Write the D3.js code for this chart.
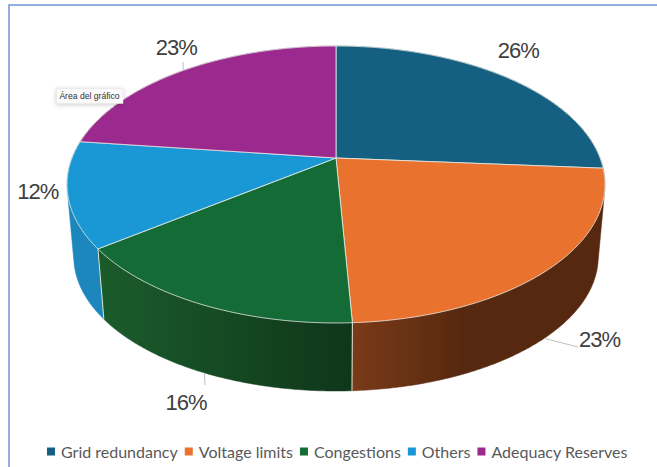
<!DOCTYPE html>
<html>
<head>
<meta charset="utf-8">
<script src="https://cdn.jsdelivr.net/npm/d3@7"></script>
<style>
html, body { margin: 0; padding: 0; background: #fff; }
svg { display: block; }
text { font-family: "Liberation Sans", sans-serif; }
</style>
</head>
<body>
<svg id="chart" width="657" height="467"></svg>
<script>
const categories = ['Grid redundancy', 'Voltage limits', 'Congestions', 'Others', 'Adequacy Reserves']
const shares = [26.2, 23, 15.5, 12.3, 23]
const labels = ['26%', '23%', '16%', '12%', '23%']
const colors = ['#156082', '#e8722e', '#146b36', '#1a98d5', '#9c2a8e']
// left and right colour of the side wall of every slice
const wallColors = [
	['#0e4058', '#0e4058'],
	['#7a3a18', '#55280f'],
	['#1b5c2b', '#0f361a'],
	['#1b87bd', '#1b87bd'],
	['#6a1c60', '#6a1c60']
]
// label centre relative to the rim point at the middle of the slice
const labelOffsets = [[11, -27], [50, 71], [-15, 98], [-30, -3], [-7, -23]]

const svg = d3.select('#chart')

// the pie is a circle seen in perspective, k is how strong that is
const k = 0.1913
const cx = 336
const topFace = {y0: 158, a: 264, b: 133.4}
const baseFace = {y0: 231, a: 264 * 0.975, b: 133.4 * 0.97}

function project(angle, face, r = 1) {
	let u = r * Math.sin(angle)
	let v = -r * Math.cos(angle)
	let d = 1 - k * v
	return [cx + face.a * u / d, face.y0 + face.b * v / d]
}

function arcPoints(start, end, face) {
	let n = Math.max(2, Math.ceil((end - start) / 0.01))
	return d3.range(n + 1).map(i => project(start + (end - start) * i / n, face))
}

const line = d3.line()
const slices = d3.pie().sort(null)(shares)

// only the top and left edge of the frame fall inside the screenshot
svg.append('rect')
	.attr('x', 9).attr('y', 5)
	.attr('width', 700).attr('height', 500)
	.attr('fill', '#fff')
	.attr('stroke', '#6d96d6')
	.attr('stroke-width', 1.5)

let defs = svg.append('defs')
defs.append('filter')
	.attr('id', 'shadow')
	.attr('x', '-30%').attr('y', '-50%')
	.attr('width', '160%').attr('height', '220%')
	.append('feDropShadow')
	.attr('dx', 0).attr('dy', 1)
	.attr('stdDeviation', 2.5)
	.attr('flood-opacity', 0.2)

slices.forEach((s, i) => {
	let pts = arcPoints(s.startAngle, s.endAngle, topFace)
	let grad = defs.append('linearGradient')
		.attr('id', `wall${i}`)
		.attr('gradientUnits', 'userSpaceOnUse')
		.attr('x1', d3.min(pts, p => p[0])).attr('y1', 0)
		.attr('x2', d3.max(pts, p => p[0])).attr('y2', 0)
	grad.append('stop').attr('offset', 0).attr('stop-color', wallColors[i][0])
	grad.append('stop').attr('offset', i == 1 ? 0.45 : 1).attr('stop-color', wallColors[i][1])
})

// back slices first so the front walls cover them
const wallOrder = [0, 4, 3, 2, 1]
wallOrder.forEach(i => {
	let s = slices[i]
	let upper = arcPoints(s.startAngle, s.endAngle, topFace)
	let lower = arcPoints(s.startAngle, s.endAngle, baseFace)
	// hull so the part between the two rims at the silhouette gets filled too
	let hull = d3.polygonHull(upper.concat(lower))
	svg.append('path')
		.attr('d', line(hull) + 'Z')
		.attr('fill', `url(#wall${i})`)
		.attr('stroke', `url(#wall${i})`)
		.attr('stroke-width', 0.5)
})

// light edges between the walls
;[slices[2].startAngle, slices[3].startAngle].forEach(a => {
	svg.append('path')
		.attr('d', line([project(a, topFace), project(a, baseFace)]))
		.attr('stroke', '#dfe6dc')
		.attr('stroke-width', 1)
})

slices.forEach((s, i) => {
	let pts = arcPoints(s.startAngle, s.endAngle, topFace)
	pts.push(project(0, topFace, 0))
	svg.append('path')
		.attr('d', line(pts) + 'Z')
		.attr('fill', colors[i])
		.attr('stroke', '#e9ece6')
		.attr('stroke-width', 0.8)
		.attr('stroke-linejoin', 'round')
})

// leader lines
const leaders = [
	{i: 1, face: baseFace, to: [[578, 347]]},
	{i: 2, face: baseFace, to: [[205, 385]]},
	{i: 4, face: topFace, to: [[183, 62]]}
]
leaders.forEach(d => {
	let s = slices[d.i]
	let start = project((s.startAngle + s.endAngle) / 2, d.face)
	svg.append('path')
		.attr('d', line([start].concat(d.to)))
		.attr('fill', 'none')
		.attr('stroke', '#bfbfbf')
		.attr('stroke-width', 1)
})

slices.forEach((s, i) => {
	let p = project((s.startAngle + s.endAngle) / 2, topFace)
	svg.append('text')
		.attr('x', p[0] + labelOffsets[i][0])
		.attr('y', p[1] + labelOffsets[i][1])
		.attr('text-anchor', 'middle')
		.attr('dominant-baseline', 'central')
		.attr('font-size', 22)
		.attr('letter-spacing', -1)
		.attr('fill', '#404040')
		.text(labels[i])
})

// legend
let legendX = 47
categories.forEach((c, i) => {
	svg.append('rect')
		.attr('x', legendX).attr('y', 447.5)
		.attr('width', 8).attr('height', 8)
		.attr('fill', colors[i])
	let t = svg.append('text')
		.attr('x', legendX + 14).attr('y', 451.5)
		.attr('dominant-baseline', 'central')
		.style('font-family', 'Lato, sans-serif')
		.attr('font-size', 16)
		.attr('fill', '#595959')
		.text(c)
	legendX += 14 + t.node().getComputedTextLength() + 7
})

// tooltip of the spreadsheet that was left in the screenshot
let tip = svg.append('g')
tip.append('rect')
	.attr('x', 56.5).attr('y', 88.5)
	.attr('width', 66.5).attr('height', 15)
	.attr('fill', '#fafafa')
	.attr('stroke', '#e2e2e2')
	.attr('stroke-width', 0.5)
	.attr('filter', 'url(#shadow)')
tip.append('text')
	.attr('x', 89.5).attr('y', 96.3)
	.attr('text-anchor', 'middle')
	.attr('dominant-baseline', 'central')
	.attr('font-size', 8.6)
	.attr('fill', '#333')
	.text('Área del gráfico')
</script>
</body>
</html>
